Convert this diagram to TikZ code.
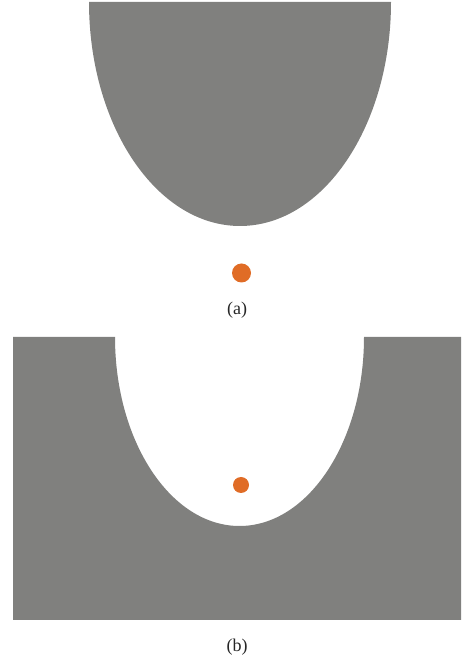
\documentclass[tikz,border=0pt]{standalone}
\usepackage{tikz}
\usepackage{xcolor}
\usepackage{fontspec}
\newfontfamily\capfont{Liberation Serif}

\definecolor{slab}{RGB}{128,128,126}
\definecolor{spotcol}{RGB}{224,108,38}

\begin{document}
\begin{tikzpicture}[
    x=1pt, y=1pt,
    body/.style={
        fill=slab,
        draw=none
    },
    spot/.style={
        circle,
        fill=spotcol,
        inner sep=0pt,
        minimum size=#1
    },
    caption/.style={
        font=\capfont\fontsize{18}{21}\selectfont,
        text=black!85,
        inner sep=0pt
    }
]
\useasboundingbox (0,0) rectangle (461,661);

% (a) tip above the point
\fill[body] (89,659) arc[start angle=180, end angle=360, x radius=151, y radius=224] -- cycle;
\node[spot=19pt] (dota) at (241.5,388) {};
\node[caption] (capa) at (237,351) {(a)};

% (b) hollow around the point
\fill[body] (13,324) -- (115,324)
    arc[start angle=180, end angle=360, x radius=124.5, y radius=189]
    -- (461,324) -- (461,41) -- (13,41) -- cycle;
\node[spot=16pt] (dotb) at (241,176) {};
\node[caption] (capb) at (237,14) {(b)};

\end{tikzpicture}
\end{document}
